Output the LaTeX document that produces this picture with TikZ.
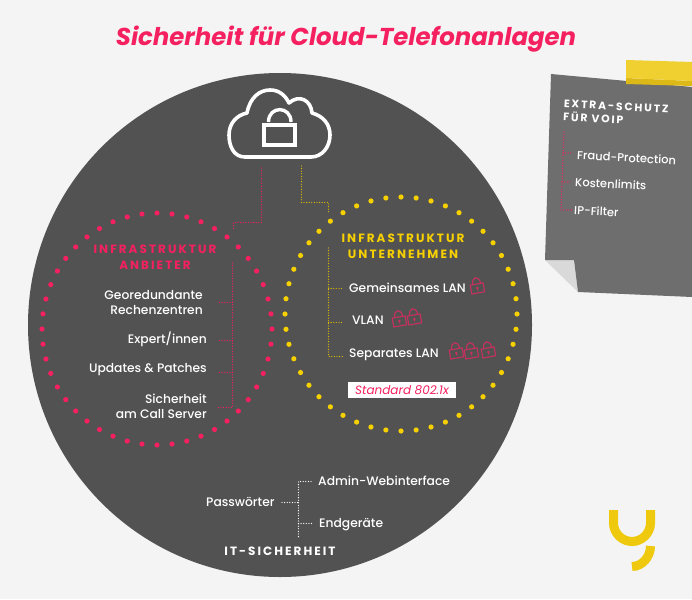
\documentclass[tikz,border=0pt]{standalone}
\usepackage{fontspec}
\setmainfont{Poppins}
\newfontfamily\capsfont[LetterSpace=17]{Poppins}
\newfontfamily\itemfont{Poppins Medium}
\usepackage{tikz}
\definecolor{pagegray}{HTML}{F4F4F4}
\definecolor{circlegray}{HTML}{525252}
\definecolor{notegray}{HTML}{6E6E6E}
\definecolor{foldgray}{HTML}{D9D9D9}
\definecolor{hotred}{HTML}{F5205F}
\definecolor{lockred}{HTML}{C93060}
\definecolor{sunyellow}{HTML}{F7D000}
\definecolor{tapeyellow}{HTML}{F0D030}
\definecolor{tapedark}{HTML}{DDB918}
\definecolor{logoyellow}{HTML}{EEC90E}
\tikzset{
	itemtext/.style={inner sep=0pt, text=white, font=\itemfont\fontsize{12.3}{15}\selectfont},
	notetext/.style={inner sep=0pt, text=white, rotate=-3, anchor=west, font=\itemfont\fontsize{11.5}{14}\selectfont},
	headtext/.style={inner sep=0pt, align=center, font=\capsfont\bfseries\fontsize{12}{16}\selectfont},
	dotline/.style={line width=1.3pt, line cap=round, dash pattern=on 0pt off 2.6pt},
	redline/.style={dotline, draw=hotred},
	yellowline/.style={dotline, draw=sunyellow!90!black},
	whiteline/.style={dotline, draw=white},
	padlock/.pic={
		\draw[lockred, line width=1.1pt] (-6.5,-2) rectangle (6.5,7);
		\draw[lockred, line width=1.1pt] (-4,-2) .. controls (-4,-10.5) and (4,-10.5) .. (4,-2);
		\fill[lockred] (0,2) circle (1.4pt);
		\draw[lockred, line width=1.1pt] (0,2) -- (0,4.5);
	}
}
\begin{document}
\begin{tikzpicture}[x=1pt,y=-1pt]
\useasboundingbox[fill=pagegray] (0,0) rectangle (692,599);
\node [inner sep=0pt, text=hotred, font=\bfseries\itshape\fontsize{24.4}{28}\selectfont] (title) at (346,39.5) {Sicherheit für Cloud-Telefonanlagen};

\fill [circlegray] (280,325) circle (252pt);

% cloud and lock
\draw [white, line width=3.6pt, line join=round] (245,157)
	.. controls (233,157) and (229,145) .. (229,135)
	.. controls (229,123) and (237,115) .. (247,113)
	.. controls (250,97) and (260,90) .. (270,90)
	.. controls (279,90) and (285,95) .. (289,103)
	.. controls (299,94) and (311,100) .. (312,113)
	.. controls (323,116) and (330,124) .. (330,135)
	.. controls (330,147) and (322,157) .. (311,157)
	-- cycle;
\draw [white, line width=4pt] (264,124.5) rectangle (295,145);
\draw [white, line width=3.4pt] (268.5,122) .. controls (268.5,105.5) and (291,105.5) .. (291,122);
\coordinate (cloudred) at (261.5,168);
\coordinate (cloudyellow) at (301.5,166);
\coordinate (redbend) at (261.5,222.5);
\coordinate (redbendb) at (233.5,222.5);
\coordinate (redend) at (233.5,230);
\coordinate (yellowbend) at (301.5,202.5);
\coordinate (yellowbendb) at (328.5,202.5);
\coordinate (yellowend) at (328.5,212);
\draw [redline] (cloudred) -- (redbend) -- (redbendb) -- (redend);
\draw [yellowline] (cloudyellow) -- (yellowbend) -- (yellowbendb) -- (yellowend);

% dotted rings
\foreach \a in {0,7.5,...,352.5} {
	\fill [hotred] (157,329) ++(\a:115 and 116) circle (2.6pt);
	\fill [sunyellow] (401,314) ++(\a:116 and 117) circle (2.6pt);
}

% provider side
\node [headtext, text=hotred] (anbieter) at (155,257) {INFRASTRUKTUR\\ANBIETER};
\node [itemtext, anchor=east, align=right] (geo) at (203,302.5) {Georedundante\\Rechenzentren};
\node [itemtext, anchor=east] (expert) at (207,339.5) {Expert/innen};
\node [itemtext, anchor=east] (updates) at (207,370) {Updates \& Patches};
\node [itemtext, anchor=east, align=right] (server) at (207,406) {Sicherheit\\am Call Server};
\coordinate (redtop) at (232.5,263);
\coordinate (redgeo) at (232.5,302.5);
\coordinate (redexpert) at (232.5,340.5);
\coordinate (redupdates) at (232.5,372.5);
\coordinate (redserver) at (232.5,407.5);
\coordinate (geoend) at (217,302.5);
\coordinate (expertend) at (217,340.5);
\coordinate (updatesend) at (217,372.5);
\coordinate (serverend) at (217,407.5);
\draw [redline] (redtop) -- (redserver) -- (serverend);
\draw [redline] (redgeo) -- (geoend);
\draw [redline] (redexpert) -- (expertend);
\draw [redline] (redupdates) -- (updatesend);

% company side
\node [headtext, text=sunyellow] (unternehmen) at (403,246) {INFRASTRUKTUR\\UNTERNEHMEN};
\node [itemtext, anchor=west] (gemeinsam) at (349,288) {Gemeinsames LAN};
\node [itemtext, anchor=west] (vlan) at (352,320) {VLAN};
\node [itemtext, anchor=west] (separat) at (349,354.5) {Separates LAN};
\node [inner sep=0pt, fill=white, text=hotred, minimum width=108pt, minimum height=16pt, font=\itshape\fontsize{12}{14}\selectfont] (standard) at (402,390) {Standard 802.1x};
\coordinate (yellowtop) at (328.5,248);
\coordinate (yellowgem) at (328.5,288.5);
\coordinate (yellowvlan) at (328.5,322.5);
\coordinate (yellowsep) at (328.5,356.5);
\coordinate (gemend) at (343,288.5);
\coordinate (vlanend) at (343,322.5);
\coordinate (sepend) at (343,356.5);
\draw [yellowline] (yellowtop) -- (yellowsep) -- (sepend);
\draw [yellowline] (yellowgem) -- (gemend);
\draw [yellowline] (yellowvlan) -- (vlanend);
\foreach \x/\y in {477/286,399/319,414/317,456/351,471/351,488/350}
	\pic [rotate=10] at (\x,\y) {padlock};

% it security
\node [itemtext, anchor=west] (passwort) at (206,502) {Passwörter};
\node [itemtext, anchor=west] (admin) at (318,481) {Admin-Webinterface};
\node [itemtext, anchor=west] (endgeraete) at (319,524.5) {Endgeräte};
\node [headtext, text=white] (itsec) at (280,551) {IT-SICHERHEIT};
\coordinate (pwstart) at (282,502.5);
\coordinate (pwjoin) at (298.5,502.5);
\coordinate (whitetop) at (298.5,481.5);
\coordinate (whitemid) at (298.5,523.5);
\coordinate (whitebot) at (298.5,537);
\coordinate (adminend) at (311,481.5);
\coordinate (endgend) at (314,523.5);
\draw [whiteline] (pwstart) -- (pwjoin);
\draw [whiteline] (adminend) -- (whitetop) -- (whitebot);
\draw [whiteline] (whitemid) -- (endgend);

% sticky note
\fill [foldgray] (545,260) -- (574,260) -- (578,292) -- cycle;
\fill [notegray] (551,74) -- (692,87) -- (692,297) -- (578,292) -- (574,260) -- (545,260) -- cycle;
\fill [tapedark] (626,78) -- (692,81) -- (692,86) -- (626,84) -- cycle;
\fill [tapeyellow] (626,60) -- (692,62) -- (692,81) -- (626,78) -- cycle;
\node [inner sep=0pt, rotate=-3, text=white, align=left, anchor=north west, font=\capsfont\bfseries\fontsize{10.8}{13.5}\selectfont] (extra) at (564,99.5) {EXTRA-SCHUTZ\\FÜR VOIP};
\node [notetext] (fraud) at (577,155) {Fraud-Protection};
\node [notetext] (kosten) at (575,182) {Kostenlimits};
\node [notetext] (ipfilter) at (574,210) {IP-Filter};
\coordinate (notetop) at (564,132);
\coordinate (notefraud) at (563,153);
\coordinate (notekosten) at (562,182);
\coordinate (notefilter) at (561,210);
\coordinate (fraudend) at (573,153);
\coordinate (kostenend) at (571,182);
\coordinate (filterend) at (572,210);
\draw [redline] (notetop) -- (notefilter) -- (filterend);
\draw [redline] (notefraud) -- (fraudend);
\draw [redline] (notekosten) -- (kostenend);

% logo
\draw [logoyellow, line width=9pt] (613.5,510) -- (613.5,523) .. controls (613.5,533) and (622,541.5) .. (632,541.5) .. controls (642,541.5) and (650.5,533) .. (650.5,523) -- (650.5,510);
\draw [logoyellow, line width=9pt] (650.5,546) .. controls (650.5,557) and (642,566.5) .. (632,566.5);
\end{tikzpicture}
\end{document}
